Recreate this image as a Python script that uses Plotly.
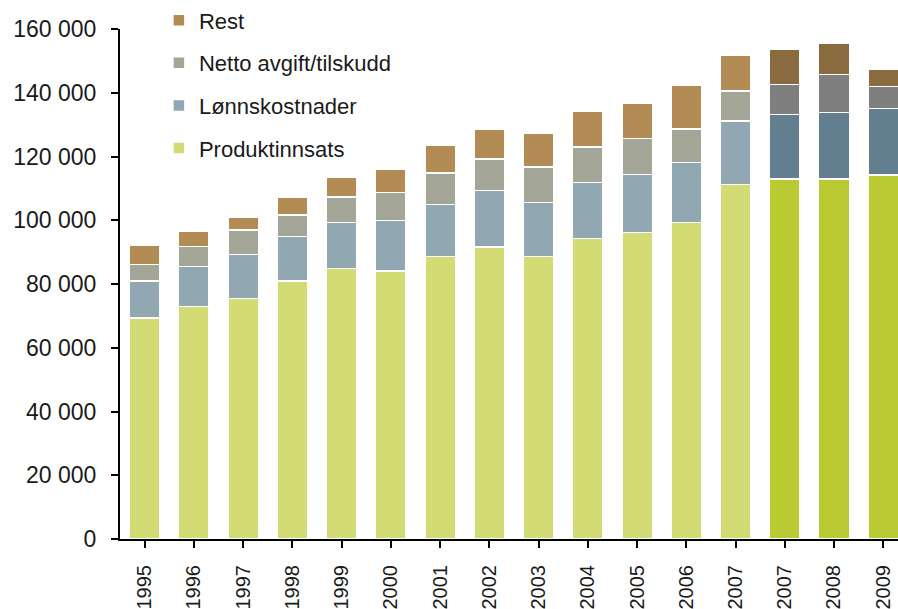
import plotly.graph_objects as go

years = ["1995", "1996", "1997", "1998", "1999", "2000", "2001", "2002",
         "2003", "2004", "2005", "2006", "2007", "2007", "2008", "2009"]

produktinnsats = [69300, 73000, 75500, 81000, 84900, 84100, 88600, 91600,
                  88600, 94300, 96200, 99300, 111200, 112900, 112900, 114200]
lonnskostnader = [11700, 12500, 13800, 13900, 14400, 15800, 16300, 17700,
                  16900, 17500, 18100, 18800, 20000, 20200, 20900, 20900]
netto_avgift = [5100, 6200, 7600, 6800, 8000, 8800, 10000, 9900,
                11200, 11200, 11300, 10600, 9400, 9500, 11900, 6800]
rest = [6100, 4900, 4000, 5500, 6200, 7300, 8600, 9300,
        10600, 11200, 11100, 13600, 11100, 11000, 9800, 5400]

y_ticks = [0, 20000, 40000, 60000, 80000, 100000, 120000, 140000, 160000]
y_labels = ["0", "20 000", "40 000", "60 000", "80 000", "100 000",
            "120 000", "140 000", "160 000"]

n_light = 13
series = [
    ("Produktinnsats", produktinnsats, "#D3DC74", "#BACA33", 4),
    ("Lønnskostnader", lonnskostnader, "#91A8B2", "#637F8F", 3),
    ("Netto avgift/tilskudd", netto_avgift, "#A3A596", "#7F7F7F", 2),
    ("Rest", rest, "#B38B55", "#8A6B40", 1),
]

x = list(range(len(years)))
fig = go.Figure()
for name, vals, light, dark, rank in series:
    colors = [light if i < n_light else dark for i in range(len(years))]
    fig.add_trace(go.Bar(
        x=x, y=vals, name=name, legendgroup=name, legendrank=rank,
        marker=dict(color=colors, line=dict(color="white", width=1.5)),
        width=0.62,
    ))

font_family = "Liberation Sans, Arial, sans-serif"
fig.update_layout(
    barmode="stack",
    width=898, height=609,
    margin=dict(l=120, r=0, t=29, b=70, autoexpand=False),
    plot_bgcolor="white", paper_bgcolor="white",
    font=dict(family=font_family, color="#1a1a1a"),
    showlegend=True,
    legend=dict(
        x=0.05, y=1.058, xanchor="left", yanchor="top",
        traceorder="grouped", tracegroupgap=11,
        font=dict(size=22, color="#1a1a1a"),
        bgcolor="rgba(0,0,0,0)", itemwidth=30,
    ),
    xaxis=dict(
        tickmode="array", tickvals=x, ticktext=years,
        range=[-0.5, 15.3], tickangle=-90, automargin=False,
        showline=True, linecolor="black", linewidth=2,
        ticks="outside", ticklen=7, tickcolor="black", tickwidth=1.5,
        showgrid=False, zeroline=False,
        tickfont=dict(size=20, color="#1a1a1a"),
        ticklabelstandoff=9,
    ),
    yaxis=dict(
        range=[0, 160000], tickmode="array", tickvals=y_ticks, ticktext=y_labels,
        automargin=False,
        showline=True, linecolor="black", linewidth=2,
        ticks="outside", ticklen=7, tickcolor="black", tickwidth=1.5,
        showgrid=False, zeroline=False,
        tickfont=dict(size=23, color="#1a1a1a"),
        ticklabelstandoff=10,
    ),
)

fig.write_html("out.html", config={"displayModeBar": False},
               post_script="document.body.style.margin='0';")
